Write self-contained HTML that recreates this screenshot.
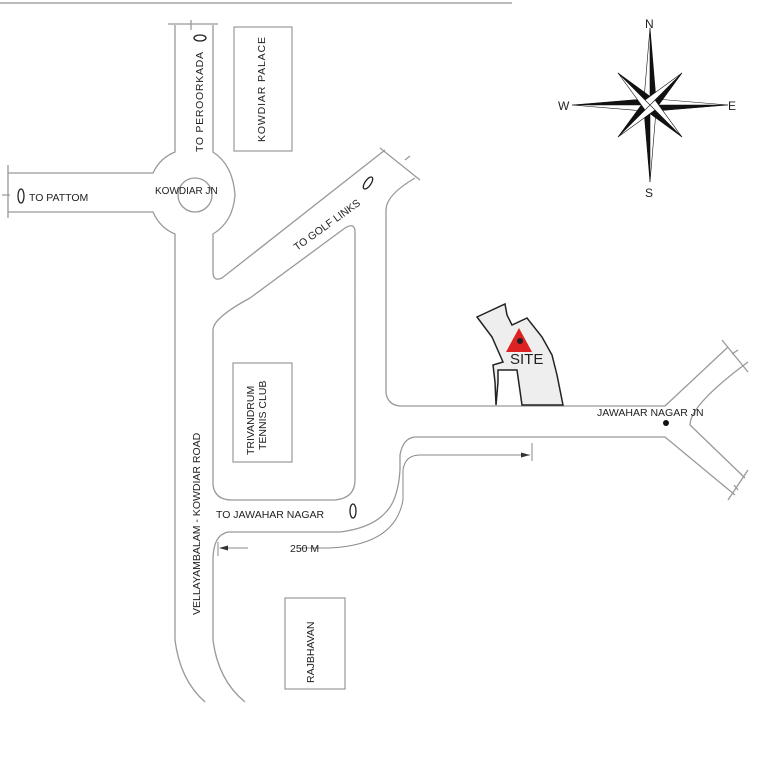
<!DOCTYPE html>
<html><head><style>
html,body{margin:0;padding:0;background:#fff;}
svg{display:block;}
text{font-family:"Liberation Sans",Arial,sans-serif;fill:#222;}
</style></head><body>
<svg width="758" height="768" viewBox="0 0 758 768" xmlns="http://www.w3.org/2000/svg">
<line x1="0" y1="3" x2="512" y2="3" stroke="#bbb" stroke-width="2"/>
<g fill="none" stroke="#999" stroke-width="1.3">
<path d="M175,25 V152 Q160,158 153,173 H8"/>
<path d="M8,212 H153 Q160,228 175,234 V640 Q180,680 205,702"/>
<path d="M213,25 V152 Q233,165 235,195 Q233,222 213,234 V272 Q213,282 222,278 L385,150"/>
<path d="M213,330 V485 Q215,500 232,500 H335 Q355,498 355,480 V232 Q355,222 345,228 L250,298 Q213,318 213,330"/>
<path d="M415,178 Q386,195 386,210 V393 Q388,405 400,406 H665 L728,347"/>
<path d="M748,362 Q690,405 690,425 L745,478"/>
<path d="M735,495 L665,437 H415 Q403,438 400,455 V470 Q398,500 386,512 Q372,528 340,532 H228 Q213,535 213,560 V640 Q218,680 245,702"/>
<circle cx="195" cy="195" r="17"/>
<path d="M168,24 H218 M191,20 V30 M8,165 V218 M2,195 H10 M380,148 L420,180 M405,160 L410,156 M722,340 L748,372 M732,354 L738,350 M728,500 L748,470 M738,490 L734,485"/>
</g>
<g fill="none" stroke="#888" stroke-width="1">
<path d="M222,548 H248 M300,548 H330 Q395,545 403,500 V470 Q405,455 420,455 H530"/>
<line x1="532" y1="443" x2="532" y2="461"/>
<line x1="218" y1="542" x2="218" y2="556"/>
</g>
<path d="M530,455 l-9,-2.5 v5z M219,548 l9,-2.5 v5z" fill="#333"/>
<g fill="none" stroke="#999" stroke-width="1.2">
<rect x="234" y="27" width="58" height="124"/>
<rect x="233" y="363" width="59" height="99"/>
<rect x="285" y="598" width="60" height="91"/>
</g>
<g fill="#fff" stroke="#222" stroke-width="1.3">
<ellipse cx="200" cy="38" rx="3" ry="6" transform="rotate(90 200 38)"/>
<ellipse cx="21" cy="196" rx="3" ry="7"/>
<ellipse cx="368" cy="183" rx="3" ry="7" transform="rotate(35 368 183)"/>
<ellipse cx="353" cy="511" rx="3" ry="7"/>
</g>
<path d="M477,317 L505,304 L507,315 L512,325 L527,318 L542,337 L552,355 L557,375 L563,405 L522,405 L517,370 L498,370 L498,382 L496,405 L495,382 L493,365 L503,362 L492,337 Z" fill="#eee" stroke="#222" stroke-width="1.5"/>
<path d="M519,328 L532,352 L506,352Z" fill="#d22"/>
<circle cx="520" cy="341" r="3" fill="#222"/>
<text x="510" y="364" font-size="15" fill="#333">SITE</text>
<circle cx="666" cy="423" r="3" fill="#111"/>
<g fill="#111" stroke="#111" stroke-width="0.6">
<path d="M650,28 L656,99 L650,105Z M650,182 L644,111 L650,105Z M572,105 L644,99 L650,105Z M728,105 L656,111 L650,105Z"/>
<path d="M650,28 L644,99 L650,105Z M650,182 L656,111 L650,105Z M572,105 L644,111 L650,105Z M728,105 L656,99 L650,105Z" fill="#fff"/>
<path d="M618,73 L655,100 L650,105Z M682,137 L645,110 L650,105Z M682,73 L655,110 L650,105Z M618,137 L645,100 L650,105Z"/>
<path d="M618,73 L645,110 L650,105Z M682,137 L655,100 L650,105Z M682,73 L645,100 L650,105Z M618,137 L655,110 L650,105Z" fill="#fff"/>
</g>
<g font-size="12" fill="#333">
<text x="645" y="28">N</text><text x="645" y="197">S</text>
<text x="558" y="110">W</text><text x="728" y="110">E</text>
</g>
<g font-size="10.5">
<text x="29" y="201">TO PATTOM</text>
<text x="155" y="194" font-size="10">KOWDIAR JN</text>
<text transform="translate(203,152) rotate(-90)" textLength="100">TO PEROORKADA</text>
<text transform="translate(265,142) rotate(-90)" textLength="105">KOWDIAR PALACE</text>
<text transform="translate(297,251) rotate(-36)">TO GOLF LINKS</text>
<text transform="translate(254,455) rotate(-90)">TRIVANDRUM</text>
<text transform="translate(266,450) rotate(-90)">TENNIS CLUB</text>
<text transform="translate(200,615) rotate(-90)">VELLAYAMBALAM - KOWDIAR  ROAD</text>
<text x="216" y="518">TO JAWAHAR NAGAR</text>
<text x="290" y="552">250 M</text>
<text transform="translate(314,683) rotate(-90)">RAJBHAVAN</text>
<text x="597" y="416">JAWAHAR NAGAR JN</text>
</g>
</svg>
</body></html>
